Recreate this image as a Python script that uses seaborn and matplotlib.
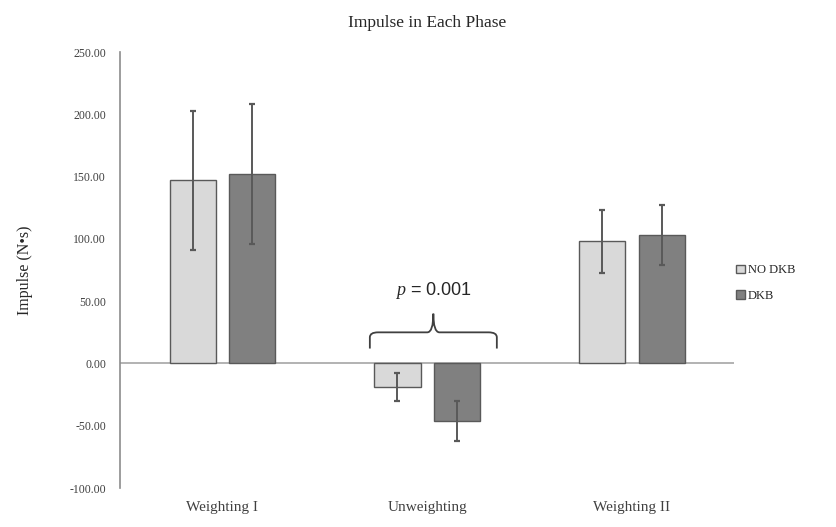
import matplotlib.pyplot as plt
import seaborn as sns
import pandas as pd
import numpy as np
from matplotlib.path import Path
from matplotlib.patches import PathPatch
from matplotlib.ticker import FormatStrFormatter

# values
phases = ["Weighting I", "Unweighting", "Weighting II"]
groups = ["NO DKB", "DKB"]
no_dkb = [147, -19, 98]
dkb = [152, -46, 103]
no_dkb_sd = [56, 11, 25]
dkb_sd = [56, 16, 24]

df = pd.DataFrame({
    "phase": phases * 2,
    "group": [groups[0]] * 3 + [groups[1]] * 3,
    "impulse": no_dkb + dkb,
    "sd": no_dkb_sd + dkb_sd,
})

sns.set_style("white")
plt.rcParams["font.family"] = ["Liberation Serif", "DejaVu Serif"]
plt.rcParams["mathtext.fontset"] = "custom"
plt.rcParams["mathtext.it"] = "Liberation Serif:italic"
plt.rcParams["mathtext.rm"] = "Liberation Serif"

fig = plt.figure(figsize=(8.36, 5.27), dpi=100)
ax = fig.add_axes([0.1435, 0.074, 0.735, 0.827])

sns.barplot(data=df, x="phase", y="impulse", hue="group", order=phases,
            hue_order=groups, palette=["#d9d9d9", "#808080"],
            errorbar=None, width=0.58, gap=0.22, ax=ax,
            edgecolor="#595959", linewidth=1.0)

# error bars (sd), bars come out in hue order
bars = [p for p in ax.patches if p.get_height() != 0]
for i, p in enumerate(bars[:6]):
    xc = p.get_x() + p.get_width() / 2
    ax.errorbar(xc, p.get_height(), yerr=df["sd"].iloc[i], color="#595959",
                lw=1.4, capsize=2.5, capthick=1.6)

ax.axhline(0, color="#a6a6a6", lw=1.2, zorder=0)
ax.set_ylim(-100, 250)
ax.set_xlim(-0.5, 2.5)
ax.set_yticks(np.arange(-100, 251, 50))
ax.yaxis.set_major_formatter(FormatStrFormatter("%.2f"))
ax.tick_params(axis="y", labelsize=8.5, labelcolor="#404040", length=0, pad=10)
ax.tick_params(axis="x", labelsize=11, labelcolor="#404040", length=0, pad=9)
ax.set_xlabel("")
ax.set_ylabel("Impulse (N•s)", fontsize=11.5, labelpad=26)
for s in ["top", "right", "bottom"]:
    ax.spines[s].set_visible(False)
ax.spines["left"].set_color("#8c8c8c")
ax.spines["left"].set_linewidth(1.2)

ax.set_title("Impulse in Each Phase", fontsize=12.5, pad=18)

# curly brace over the Unweighting bars
x0, x1, xm = 0.72, 1.34, 1.03
yb, yh, yp = 12, 25, 40
verts = [(x0, yb), (x0, yh - 4), (x0, yh), (x0 + 0.04, yh),
         (xm - 0.03, yh), (xm, yh), (xm, yp),
         (xm, yp), (xm, yh), (xm + 0.03, yh),
         (x1 - 0.04, yh), (x1, yh), (x1, yh - 4), (x1, yb)]
codes = [Path.MOVETO, Path.LINETO, Path.CURVE3, Path.CURVE3,
         Path.LINETO, Path.CURVE3, Path.CURVE3,
         Path.MOVETO, Path.CURVE3, Path.CURVE3,
         Path.LINETO, Path.CURVE3, Path.CURVE3, Path.LINETO]
ax.add_patch(PathPatch(Path(verts, codes), fill=False, edgecolor="#404040", lw=1.3))
ax.text(xm, 59, r"$p$ = 0.001", ha="center", va="center", fontsize=13,
        family=["Liberation Sans", "DejaVu Sans"])

ax.legend(loc="center left", bbox_to_anchor=(0.985, 0.47), frameon=False,
          fontsize=9, handlelength=0.7, handleheight=0.7,
          handletextpad=0.2, labelspacing=1.1)

plt.savefig("out.png", dpi=100)
